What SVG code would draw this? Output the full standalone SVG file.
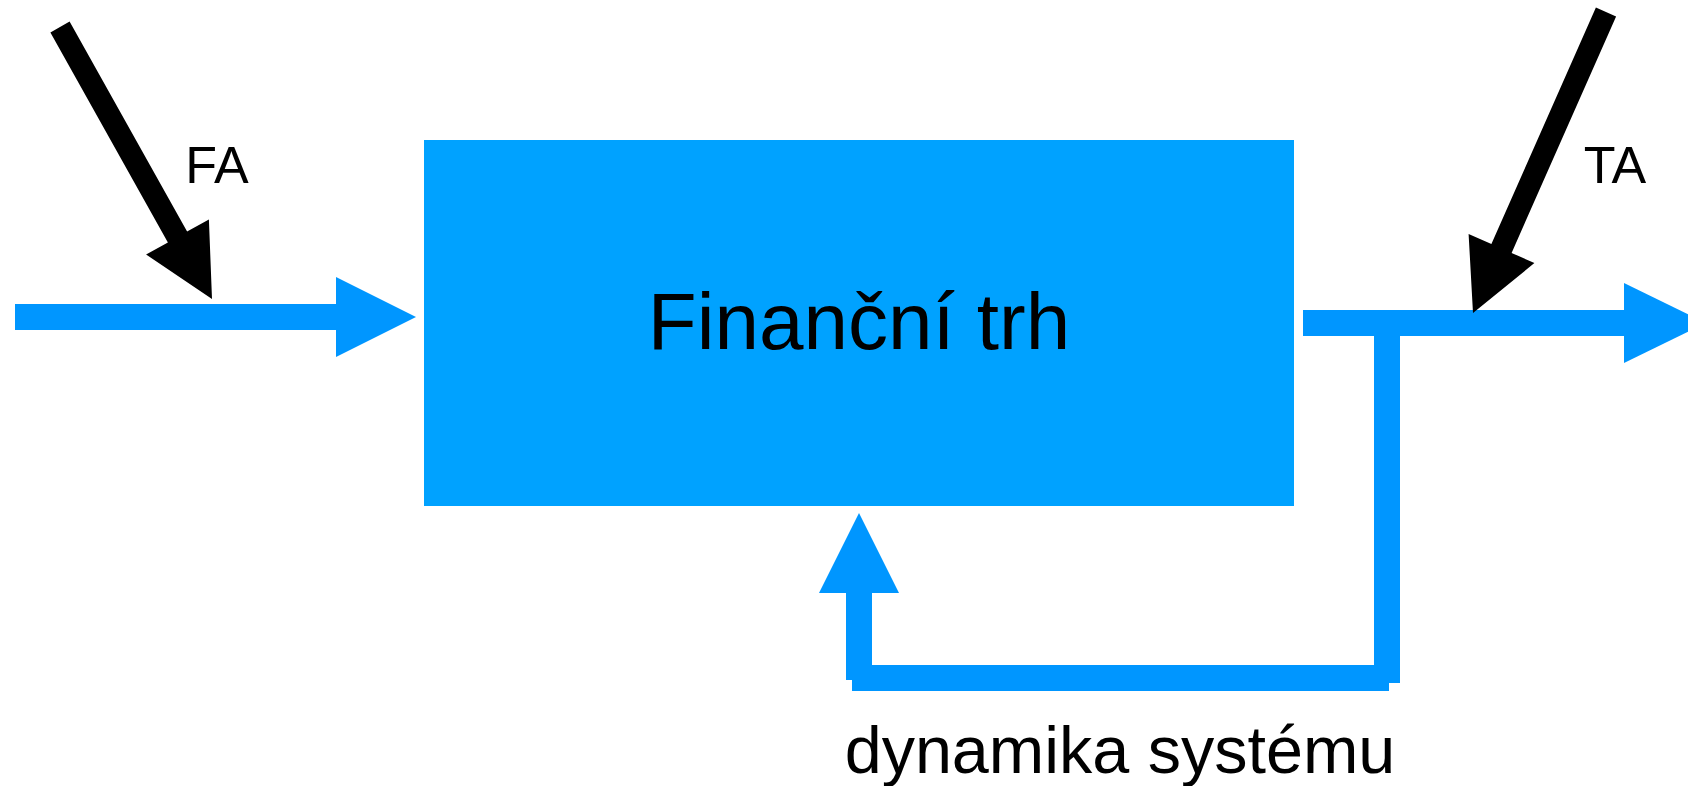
<svg xmlns="http://www.w3.org/2000/svg" width="1688" height="786" viewBox="0 0 1688 786">
  <style>
    .flow { fill: #0096FF; }
    .ext { fill: #000000; }
    .lbl { font-family: "Liberation Sans", Arial, sans-serif; fill: #000000; }
  </style>
  <rect width="1688" height="786" fill="#ffffff"/>
  <g id="node-financni-trh">
    <rect x="424" y="140" width="870" height="366" fill="#00A2FF"/>
    <text class="lbl" x="859" y="349" font-size="80" text-anchor="middle">Finanční trh</text>
  </g>
  <g id="connectors">
    <g id="input-arrow">
      <rect class="flow" x="15" y="304" width="322" height="26"/>
      <polygon class="flow" points="336,277 416,317 336,357"/>
    </g>
    <g id="output-arrow">
      <rect class="flow" x="1303" y="310" width="322" height="26"/>
      <polygon class="flow" points="1624,283 1706,323 1624,363"/>
    </g>
    <g id="feedback">
      <rect class="flow" x="1374" y="335" width="26" height="348"/>
      <rect class="flow" x="852" y="665" width="537" height="26"/>
      <rect class="flow" x="846" y="592" width="26" height="88"/>
      <polygon class="flow" points="859,513 899,593 819,593"/>
      <text class="lbl" x="1120" y="773" font-size="66.5" text-anchor="middle">dynamika systému</text>
    </g>
    <g id="fa-arrow">
      <polygon class="ext" points="50.4,32.4 69.6,21.6 187.1,231.6 208.9,219.4 212,299 146.1,254.6 167.9,242.4"/>
      <text class="lbl" x="217" y="183" font-size="52" text-anchor="middle">FA</text>
    </g>
    <g id="ta-arrow">
      <polygon class="ext" points="1595.9,7.6 1616.1,16.4 1511.6,252.9 1534.4,263.1 1473,313 1468.6,233.9 1491.4,244.1"/>
      <text class="lbl" x="1615" y="183" font-size="52" text-anchor="middle">TA</text>
    </g>
  </g>
</svg>
